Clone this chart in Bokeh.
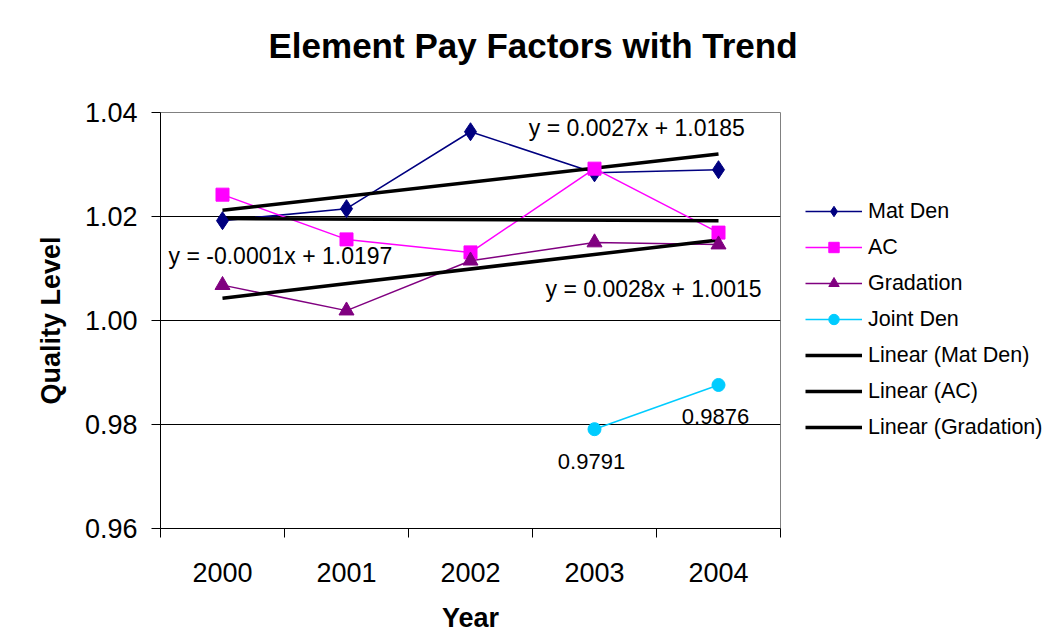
from bokeh.plotting import figure
from bokeh.models import Range1d, FixedTicker, Legend, LegendItem, PrintfTickFormatter, Title
from bokeh.core.properties import value
from bokeh.embed import file_html
from bokeh.resources import INLINE

# ---- data ----
years = ["2000", "2001", "2002", "2003", "2004"]
mat_den = [1.0192, 1.0215, 1.0363, 1.0284, 1.0290]
ac = [1.0242, 1.0156, 1.0131, 1.0292, 1.0169]
gradation = [1.0068, 1.0019, 1.0115, 1.0150, 1.0146]
joint_years = ["2003", "2004"]
joint_den = [0.9791, 0.9876]
trend_names = ["Linear (Mat Den)", "Linear (AC)", "Linear (Gradation)"]
trend_slopes = [0.0027, -0.0001, 0.0028]
trend_intercepts = [1.0185, 1.0197, 1.0015]
trend_labels = ["y = 0.0027x + 1.0185", "y = -0.0001x + 1.0197", "y = 0.0028x + 1.0015"]
y_ticks = [0.96, 0.98, 1.00, 1.02, 1.04]

# label placement (layout, not data)
trend_label_x = [3.47, 0.565, 3.605]
trend_label_y = [1.0371, 1.0125, 1.0060]

FONT = "Liberation Sans"

xpos = [i + 1 for i in range(len(years))]
jpos = [years.index(y) + 1 for y in joint_years]

p = figure(frame_width=620, frame_height=416, x_range=Range1d(0.5, 5.5), y_range=Range1d(0.96, 1.04),
           output_backend="svg", toolbar_location=None,
           min_border_left=160, min_border_right=265, min_border_top=112, min_border_bottom=112)

# spacer between frame and title
p.add_layout(Title(text=" ", text_font_size="1px", standoff=44), "above")

p.title.text = "Element Pay Factors with Trend"
p.title.text_font = FONT
p.title.text_font_size = "35px"
p.title.text_font_style = "bold"
p.title.text_color = "black"
p.title.align = "left"
p.title.offset = 108
p.title.vertical_align = "middle"
p.title.standoff = 0

p.outline_line_color = "#808080"
p.outline_line_width = 1
p.background_fill_color = "white"

# axes
p.xaxis.ticker = FixedTicker(ticks=xpos, minor_ticks=[0.5, 1.5, 2.5, 3.5, 4.5, 5.5])
p.xaxis.major_label_overrides = {x: y for x, y in zip(xpos, years)}
p.xaxis.major_tick_out = 9
p.xaxis.major_tick_in = 0
p.xaxis.minor_tick_out = 9
p.xaxis.minor_tick_in = 0
p.xaxis.minor_tick_line_color = "black"
p.xaxis.major_label_standoff = 25
p.xaxis.axis_label = "Year"
p.xaxis.axis_label_standoff = 18

p.yaxis.ticker = FixedTicker(ticks=y_ticks, minor_ticks=[])
p.yaxis.formatter = PrintfTickFormatter(format="%.2f")
p.yaxis.major_tick_out = 9
p.yaxis.major_tick_in = 0
p.yaxis.minor_tick_line_color = None
p.yaxis.major_label_standoff = 14
p.yaxis.axis_label = "Quality Level"
p.yaxis.axis_label_standoff = 16

for ax in (p.xaxis, p.yaxis):
    ax.axis_line_color = "black"
    ax.axis_line_width = 1
    ax.major_label_text_font = FONT
    ax.major_label_text_font_size = "27px"
    ax.major_label_text_color = "black"
    ax.axis_label_text_font = FONT
    ax.axis_label_text_font_size = "27px"
    ax.axis_label_text_font_style = "bold"
    ax.axis_label_text_color = "black"
p.xaxis.major_tick_line_color = None
p.yaxis.major_tick_line_color = "black"

p.xgrid.grid_line_color = None
p.ygrid.ticker = FixedTicker(ticks=[0.98, 1.00, 1.02])
p.ygrid.grid_line_color = "black"
p.ygrid.grid_line_width = 1

# series lines
r_md_l = p.line(xpos, mat_den, line_color="#000080", line_width=1.5)
r_ac_l = p.line(xpos, ac, line_color="#FF00FF", line_width=1.5)
r_gr_l = p.line(xpos, gradation, line_color="#800080", line_width=1.5)
r_jd_l = p.line(jpos, joint_den, line_color="#00CCFF", line_width=1.5)

# trend lines
trend_rs = []
for s, b in zip(trend_slopes, trend_intercepts):
    tx = [xpos[0], xpos[-1]]
    ty = [s * tx[0] + b, s * tx[1] + b]
    trend_rs.append(p.line(tx, ty, line_color="black", line_width=3.5))

# markers
r_md_m = p.scatter(xpos, mat_den, marker="diamond", size=18, fill_color="#000080", line_color="#000080")
r_ac_m = p.scatter(xpos, ac, marker="square", size=13, fill_color="#FF00FF", line_color="#FF00FF")
r_gr_m = p.scatter(xpos, gradation, marker="triangle", size=15, fill_color="#800080", line_color="#800080")
r_jd_m = p.scatter(jpos, joint_den, marker="circle", size=13, fill_color="#00CCFF", line_color="#00CCFF")

# trend equations
p.text(trend_label_x, trend_label_y, text=trend_labels, text_font=value(FONT), text_font_size="23px",
       text_color="black", text_baseline="middle", text_align="left")

# data labels for Joint Den
p.text(jpos, joint_den, text=["%.4f" % v for v in joint_den], text_font=value(FONT),
       text_font_size="22px", text_color="black", text_baseline="middle", text_align="center",
       x_offset=-3, y_offset=32)

items = [
    LegendItem(label="Mat Den", renderers=[r_md_l, r_md_m]),
    LegendItem(label="AC", renderers=[r_ac_l, r_ac_m]),
    LegendItem(label="Gradation", renderers=[r_gr_l, r_gr_m]),
    LegendItem(label="Joint Den", renderers=[r_jd_l, r_jd_m]),
] + [LegendItem(label=n, renderers=[r]) for n, r in zip(trend_names, trend_rs)]

legend = Legend(items=items, location=(25, 88), orientation="vertical",
                glyph_width=57, glyph_height=26, label_height=26, spacing=10,
                label_standoff=6, padding=0, margin=0,
                label_text_font=FONT, label_text_font_size="21.5px", label_text_color="black",
                border_line_color=None, background_fill_alpha=0)
p.add_layout(legend, "right")

open("out.html", "w").write(file_html(p, INLINE))
